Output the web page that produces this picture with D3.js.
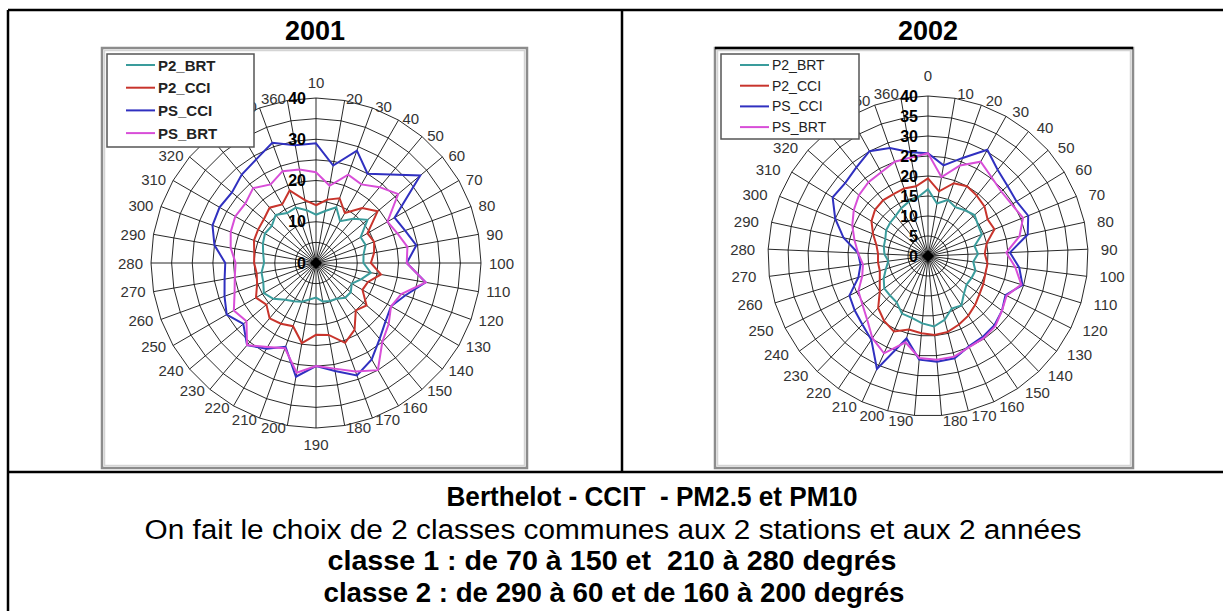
<!DOCTYPE html>
<html>
<head>
<meta charset="utf-8">
<script src="https://cdn.jsdelivr.net/npm/d3@7"></script>
<style>
  body { margin: 0; background: #fff; }
  svg { display: block; font-family: "Liberation Sans", Arial, sans-serif; }
</style>
</head>
<body>
<script>
// Width and height
var w = 1223;
var h = 611;

// Wind sectors (labels around each chart)
var sectors2001 = d3.range(10, 361, 10);   // 10 .. 360
var sectors2002 = d3.range(0, 361, 10);    // 0 .. 360

// Radial tick labels
var ticks2001 = [0, 10, 20, 30, 40];
var ticks2002 = [0, 5, 10, 15, 20, 25, 30, 35, 40];

// Series names
var seriesNames = ["P2_BRT", "P2_CCI", "PS_CCI", "PS_BRT"];
var seriesColors = ["#3a9c9c", "#c8342c", "#3030c0", "#d84ed8"];

// 2001 values (one per sector, 10 .. 360)
var p2brt2001 = [11.7, 12.8, 14.4, 11.7, 14, 16.3, 12.5, 12.8, 11.7, 11.5, 13.5, 11.6, 10, 11, 11, 10, 9.8, 9.5,
                 8.4, 9, 10, 10.7, 11.6, 13.5, 14.6, 13.6, 13.4, 12.6, 13, 13.7, 14.3, 14, 15.2, 14, 14.3, 13];
var p2cci2001 = [14, 15.6, 16.7, 14, 17.4, 19.5, 14.4, 15, 14.3, 13.3, 16, 13.4, 13, 16, 15, 18.7, 20.6, 17.7,
                 17.4, 19.7, 16.3, 17, 17.5, 15.7, 16.8, 15.2, 14.6, 15, 15.2, 16, 16.2, 16.5, 17.5, 16.4, 18.7, 15.5];
var pscci2001 = [29, 24, 29, 25, 28, 33, 22, 23, 24.7, 22, 27, 23, 21, 22, 24, 27, 29, 26.6,
                 25, 28, 21.6, 24, 26, 23, 25, 23.6, 22.5, 22, 25, 26.7, 27, 26.6, 28, 29, 31, 29];
var psbrt2001 = [22, 19, 22.8, 22, 24, 26, 20, 21, 22.5, 22, 27, 22, 21, 23, 25, 30, 28, 26,
                 25, 27, 22, 23.5, 26, 22, 23, 21, 20, 19.5, 21, 22, 22.6, 22.4, 23.7, 22, 23.7, 23];

// 2002 values (one per sector, 0 .. 360)
var p2brt2002 = [16.7, 13.3, 14.9, 14, 14.7, 15.5, 14.7, 14.5, 11.9, 12.5, 11.4, 12.4, 12.2, 12, 13, 14.9, 14.4, 16.5, 17.7,
                 16.9, 16, 15.8, 14, 13.7, 13.6, 12.4, 11, 10, 10.9, 11.3, 11.5, 12.3, 12.6, 12.9, 13.7, 14.4, 14.9];
var p2cci2002 = [19.4, 16.4, 19.3, 20, 19.4, 18.8, 17.5, 17.9, 15, 14.2, 15, 15, 15.5, 16, 17, 18, 18.8, 19.6, 19.8,
                 19.4, 19, 20.7, 19.6, 18, 15, 13.5, 12.6, 12.6, 12.5, 13.2, 14.8, 16.6, 17.6, 17.9, 17.7, 17.9, 17.7];
var pscci2002 = [25.7, 23, 26, 30.4, 27.7, 26.5, 26, 27, 25.5, 20.5, 23, 24.7, 21.7, 23, 24, 24.4, 24.8, 26.4, 26.5,
                 26, 21.3, 31, 25.3, 23.7, 22.8, 22, 18.2, 17, 17.5, 21.6, 25, 28, 27.6, 28.5, 30, 28.6, 26.3];
var psbrt2002 = [25.7, 20, 24, 27, 25.3, 24.4, 24.6, 25.6, 23.4, 19.6, 22, 24.4, 22, 23, 24.3, 24.8, 25, 26, 26,
                 25.6, 22.3, 26.7, 24.8, 22, 20.4, 19.5, 17.2, 16.4, 17.5, 18.8, 20.4, 21.8, 23, 23.7, 24, 25, 25];

// Create SVG element
var svg = d3.select("body")
            .append("svg")
            .attr("width", w)
            .attr("height", h);

// Table grid
var table = svg.append("g")
  .attr("stroke", "#000")
  .attr("stroke-width", 2.5);
table.append("line").attr("x1", 8).attr("y1", 10).attr("x2", w).attr("y2", 10);
table.append("line").attr("x1", 8).attr("y1", 10).attr("x2", 8).attr("y2", h);
table.append("line").attr("x1", 622).attr("y1", 10).attr("x2", 622).attr("y2", 472);
table.append("line").attr("x1", 8).attr("y1", 472).attr("x2", w).attr("y2", 472);

// Column titles
svg.append("text")
  .attr("x", 315).attr("y", 40)
  .attr("text-anchor", "middle")
  .attr("font-size", "27px").attr("font-weight", "bold")
  .text("2001");
svg.append("text")
  .attr("x", 928).attr("y", 40)
  .attr("text-anchor", "middle")
  .attr("font-size", "27px").attr("font-weight", "bold")
  .text("2002");

// Draws one radar chart
function drawRadar(opt) {
  var g = svg.append("g");

  // frame
  g.append("rect")
    .attr("x", opt.frame[0]).attr("y", opt.frame[1])
    .attr("width", opt.frame[2]).attr("height", opt.frame[3])
    .attr("fill", "#fff")
    .attr("stroke", "#8c8c8c")
    .attr("stroke-width", 2.5);
  g.append("rect")
    .attr("x", opt.frame[0] + 2.5).attr("y", opt.frame[1] + 2.5)
    .attr("width", opt.frame[2] - 5).attr("height", opt.frame[3] - 5)
    .attr("fill", "none")
    .attr("stroke", "#d4d4d4")
    .attr("stroke-width", 1.5);
  if (opt.topBlack) {
    g.append("line")
      .attr("x1", opt.frame[0]).attr("x2", opt.frame[0] + opt.frame[2])
      .attr("y1", opt.frame[1]).attr("y2", opt.frame[1])
      .attr("stroke", "#000").attr("stroke-width", 2.5);
  }

  var n = opt.sectors.length;
  var rScale = d3.scaleLinear()
                .domain([0, 40])
                .range([0, opt.radius]);
  var aScale = d3.scaleLinear()
                .domain([0, n])
                .range([0, 2 * Math.PI]);

  var plot = g.append("g")
    .attr("transform", "translate(" + opt.cx + "," + opt.cy + ")");

  // rings (polygons, as in a radar chart)
  var ring = d3.lineRadial()
    .angle(function(d, i) { return aScale(i); })
    .radius(function(d) { return rScale(d); })
    .curve(d3.curveLinearClosed);

  d3.range(5, 41, 5).forEach(function(v) {
    plot.append("path")
      .attr("d", ring(opt.sectors.map(function() { return v; })))
      .attr("fill", "none")
      .attr("stroke", "#111")
      .attr("stroke-width", 0.9);
  });

  // spokes
  plot.selectAll("line.spoke")
    .data(opt.sectors)
    .enter()
    .append("line")
    .attr("class", "spoke")
    .attr("x1", 0).attr("y1", 0)
    .attr("x2", function(d, i) { return rScale(40) * Math.sin(aScale(i)); })
    .attr("y2", function(d, i) { return -rScale(40) * Math.cos(aScale(i)); })
    .attr("stroke", "#111")
    .attr("stroke-width", 0.9);

  // dark hub where the spokes meet
  plot.append("path")
    .attr("d", "M0,-6L6,0L0,6L-6,0Z")
    .attr("fill", "#000");

  // sector labels, placed next to the end of each spoke (Excel style)
  var lx = rScale(40) + opt.labelGap;      // horizontal reach
  var ly = rScale(40) + opt.labelGapY;     // vertical reach
  plot.selectAll("text.sector")
    .data(opt.sectors)
    .enter()
    .append("text")
    .attr("class", "sector")
    .attr("x", function(d, i) { return lx * Math.sin(aScale(i)); })
    .attr("y", function(d, i) {
      var c = Math.cos(aScale(i));
      if (Math.abs(Math.sin(aScale(i))) < 0.02) return -(lx + 8) * c;
      return -ly * c;
    })
    .attr("text-anchor", function(d, i) {
      var s = Math.sin(aScale(i));
      return s > 0.02 ? "start" : (s < -0.02 ? "end" : "middle");
    })
    .attr("dominant-baseline", "central")
    .attr("font-size", "15px")
    .attr("fill", "#333")
    .text(function(d) { return d; });

  // series
  var line = d3.lineRadial()
    .angle(function(d, i) { return aScale(i); })
    .radius(function(d) { return rScale(d); })
    .curve(d3.curveLinearClosed);

  opt.series.forEach(function(s, k) {
    plot.append("path")
      .attr("d", line(s))
      .attr("fill", "none")
      .attr("stroke", seriesColors[k])
      .attr("stroke-width", 2);
  });

  // radial value labels
  plot.selectAll("text.tick")
    .data(opt.ticks)
    .enter()
    .append("text")
    .attr("class", "tick")
    .attr("x", -10)
    .attr("y", function(d) { return -rScale(d); })
    .attr("text-anchor", "end")
    .attr("dominant-baseline", "central")
    .attr("font-size", "16px")
    .attr("font-weight", "bold")
    .attr("fill", "#000")
    .text(function(d) { return d; });

  // legend
  var lg = g.append("g");
  lg.append("rect")
    .attr("x", opt.legend[0]).attr("y", opt.legend[1])
    .attr("width", opt.legend[2]).attr("height", opt.legend[3])
    .attr("fill", "#fff")
    .attr("stroke", "#555")
    .attr("stroke-width", 1.5);
  seriesNames.forEach(function(name, k) {
    var y = opt.legend[1] + 11 + k * opt.legendStep;
    lg.append("line")
      .attr("x1", opt.legend[0] + 19).attr("x2", opt.legend[0] + 48)
      .attr("y1", y).attr("y2", y)
      .attr("stroke", seriesColors[k])
      .attr("stroke-width", 2);
    lg.append("text")
      .attr("x", opt.legend[0] + 51).attr("y", y)
      .attr("dominant-baseline", "central")
      .attr("font-size", opt.legendBold ? "15px" : "14px")
      .attr("font-weight", opt.legendBold ? "bold" : "normal")
      .attr("fill", "#222")
      .text(name);
  });
}

drawRadar({
  frame: [102, 48, 425, 420],
  cx: 316, cy: 263, radius: 165, labelGap: 8, labelGapY: 2,
  sectors: sectors2001,
  ticks: ticks2001,
  series: [p2brt2001, p2cci2001, pscci2001, psbrt2001],
  legend: [107, 54, 147, 93], legendStep: 22.7, legendBold: true
});

drawRadar({
  frame: [715, 48, 418, 420],
  cx: 928, cy: 256, radius: 160, labelGap: 13, labelGapY: 5,
  sectors: sectors2002,
  ticks: ticks2002,
  series: [p2brt2002, p2cci2002, pscci2002, psbrt2002],
  legend: [721, 54, 138, 85], legendStep: 20.7, legendBold: false, topBlack: true
});

// Caption (widths taken from the reference lines)
var caption = [
  { text: "Berthelot - CCIT  - PM2.5 et PM10", x: 652, y: 506, len: 411, bold: true },
  { text: "On fait le choix de 2 classes communes aux 2 stations et aux 2 années", x: 613, y: 539, len: 937, bold: false },
  { text: "classe 1 : de 70 à 150 et  210 à 280 degrés", x: 612, y: 570, len: 569, bold: true },
  { text: "classe 2 : de 290 à 60 et de 160 à 200 degrés", x: 614, y: 602, len: 581, bold: true }
];

svg.selectAll("text.caption")
  .data(caption)
  .enter()
  .append("text")
  .attr("class", "caption")
  .attr("x", function(d) { return d.x; })
  .attr("y", function(d) { return d.y; })
  .attr("text-anchor", "middle")
  .attr("font-size", "27px")
  .attr("font-weight", function(d) { return d.bold ? "bold" : "normal"; })
  .attr("textLength", function(d) { return d.len; })
  .attr("lengthAdjust", "spacingAndGlyphs")
  .style("white-space", "pre")
  .text(function(d) { return d.text; });
</script>
</body>
</html>
